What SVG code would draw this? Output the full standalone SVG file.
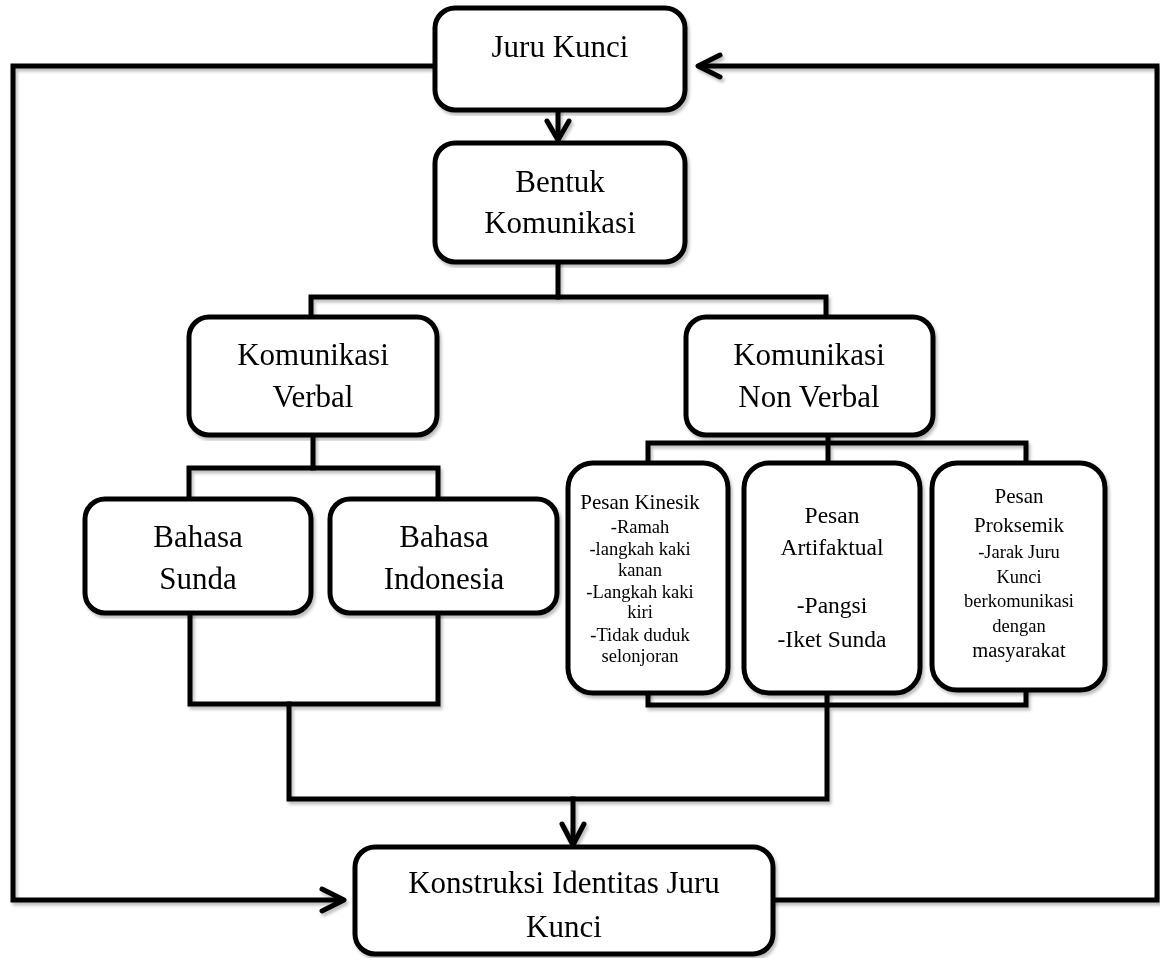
<svg xmlns="http://www.w3.org/2000/svg" width="1160" height="958" viewBox="0 0 1160 958">
<style>
.box{fill:#fff;stroke:#000;stroke-width:5}
.ln{fill:none;stroke:#000;stroke-width:5;stroke-linejoin:miter;stroke-linecap:square}
.ar{fill:none;stroke:#000;stroke-width:5;stroke-linecap:round;stroke-linejoin:round}
text{font-family:"Liberation Serif","Times New Roman",serif;fill:#000;text-anchor:middle}
.t{font-size:31px}
.m{font-size:23.5px}
.s{font-size:18.5px}
.s2{font-size:21px}
</style>
<defs>
<filter id="sh" x="-5%" y="-5%" width="110%" height="110%">
<feDropShadow dx="2" dy="3" stdDeviation="1.5" flood-color="#000" flood-opacity="0.25"/>
</filter>
</defs>
<rect width="1160" height="958" fill="#fff"/>
<g id="connectors" filter="url(#sh)">
<polyline class="ln" points="435,66 13,66 13,900 340,900"/>
<polyline class="ar" points="322,889 344,900 322,911"/>
<polyline class="ln" points="773,900 1157,900 1157,66 702,66"/>
<polyline class="ar" points="720,55 698,66 720,77"/>
<line class="ln" x1="558" y1="110" x2="558" y2="137"/>
<polyline class="ar" points="547,121 558,140 569,121"/>
<polyline class="ln" points="558,262 558,297"/>
<polyline class="ln" points="311,317 311,297 826,297 826,317"/>
<polyline class="ln" points="313,435 313,468"/>
<polyline class="ln" points="189,500 189,468 438,468 438,500"/>
<polyline class="ln" points="190,613 190,704 438,704 438,613"/>
<polyline class="ln" points="289,704 289,799 827,799 827,693"/>
<line class="ln" x1="573" y1="799" x2="573" y2="841"/>
<polyline class="ar" points="562,824 573,845 584,824"/>
<polyline class="ln" points="828,435 828,463"/>
<polyline class="ln" points="648,463 648,443 1026,443 1026,463"/>
<polyline class="ln" points="648,693 648,705 1026,705 1026,690"/>
</g>
<g id="juru-kunci" filter="url(#sh)">
<rect class="box" x="435" y="8" width="250" height="102" rx="20"/>
<text class="t" x="560" y="57">Juru Kunci</text>
</g>
<g id="bentuk-komunikasi" filter="url(#sh)">
<rect class="box" x="435" y="143" width="250" height="119" rx="20"/>
<text class="t" x="560" y="192">Bentuk</text>
<text class="t" x="560" y="233">Komunikasi</text>
</g>
<g id="komunikasi-verbal" filter="url(#sh)">
<rect class="box" x="189" y="317" width="248" height="118" rx="20"/>
<text class="t" x="313" y="365">Komunikasi</text>
<text class="t" x="313" y="407">Verbal</text>
</g>
<g id="komunikasi-non-verbal" filter="url(#sh)">
<rect class="box" x="686" y="317" width="247" height="118" rx="20"/>
<text class="t" x="809" y="365">Komunikasi</text>
<text class="t" x="809" y="407">Non Verbal</text>
</g>
<g id="bahasa-sunda" filter="url(#sh)">
<rect class="box" x="85" y="499" width="226" height="114" rx="20"/>
<text class="t" x="198" y="547">Bahasa</text>
<text class="t" x="198" y="589">Sunda</text>
</g>
<g id="bahasa-indonesia" filter="url(#sh)">
<rect class="box" x="330" y="499" width="227" height="114" rx="20"/>
<text class="t" x="444" y="547">Bahasa</text>
<text class="t" x="444" y="589">Indonesia</text>
</g>
<g id="pesan-kinesik" filter="url(#sh)">
<rect class="box" x="568" y="463" width="160" height="230" rx="25"/>
<text class="s2" x="640" y="509">Pesan Kinesik</text>
<text class="s" x="640" y="533">-Ramah</text>
<text class="s" x="640" y="555">-langkah kaki</text>
<text class="s" x="640" y="576">kanan</text>
<text class="s" x="640" y="598">-Langkah kaki</text>
<text class="s" x="640" y="618">kiri</text>
<text class="s" x="640" y="641">-Tidak duduk</text>
<text class="s" x="640" y="662">selonjoran</text>
</g>
<g id="pesan-artifaktual" filter="url(#sh)">
<rect class="box" x="744" y="463" width="176" height="230" rx="25"/>
<text class="m" x="832" y="523">Pesan</text>
<text class="m" x="832" y="555">Artifaktual</text>
<text class="m" x="832" y="613">-Pangsi</text>
<text class="m" x="832" y="647">-Iket Sunda</text>
</g>
<g id="pesan-proksemik" filter="url(#sh)">
<rect class="box" x="932" y="463" width="173" height="227" rx="25"/>
<text class="s2" x="1019" y="503">Pesan</text>
<text class="s2" x="1019" y="532">Proksemik</text>
<text class="s" x="1019" y="558">-Jarak Juru</text>
<text class="s" x="1019" y="583">Kunci</text>
<text class="s" x="1019" y="607">berkomunikasi</text>
<text class="s" x="1019" y="632">dengan</text>
<text class="s" x="1019" y="657" style="font-size:20.5px">masyarakat</text>
</g>
<g id="konstruksi-identitas" filter="url(#sh)">
<rect class="box" x="355" y="847" width="418" height="107" rx="20"/>
<text class="t" x="564" y="893">Konstruksi Identitas Juru</text>
<text class="t" x="564" y="937">Kunci</text>
</g>
</svg>
